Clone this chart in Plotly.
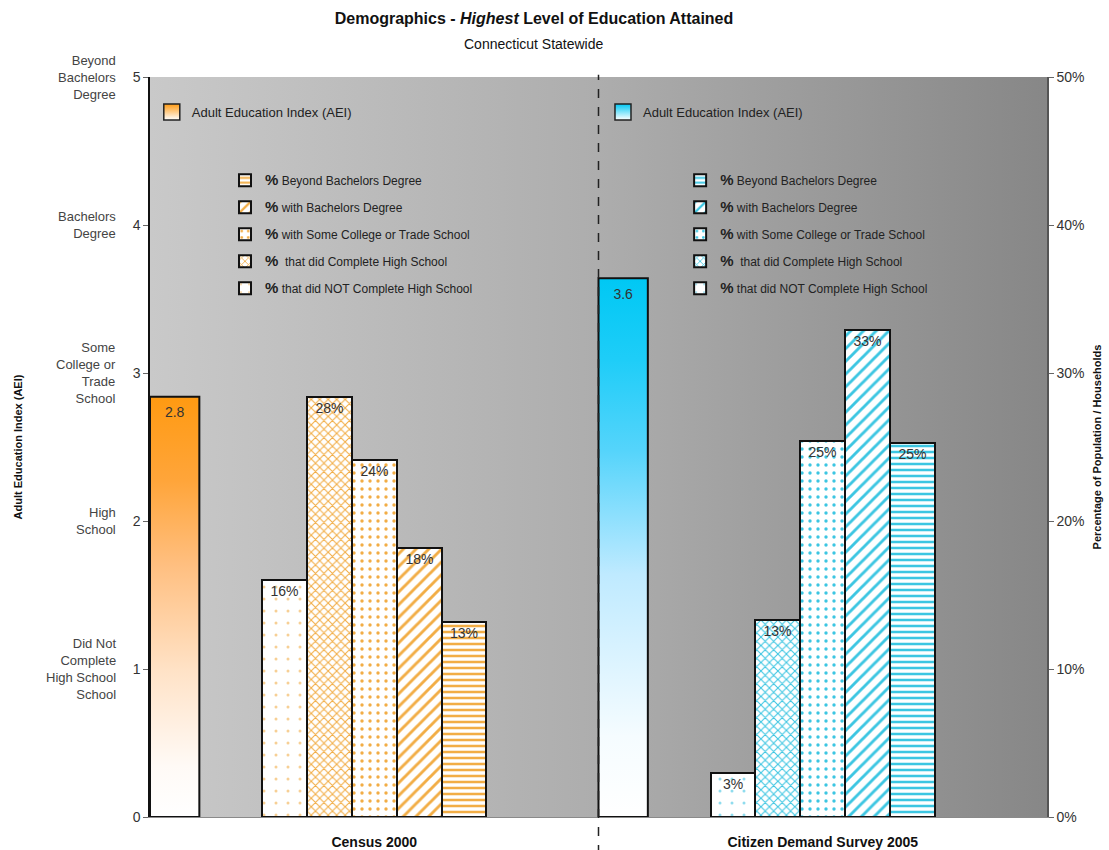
import base64
import plotly.graph_objects as go

# ---- data -------------------------------------------------------------
groups = ["Census 2000", "Citizen Demand Survey 2005"]
aei_values = [2.84, 3.64]  # Adult Education Index per source

levels = [
    "that did NOT Complete High School",
    " that did Complete High School",
    "with Some College or Trade School",
    "with Bachelors Degree",
    "Beyond Bachelors Degree",
]
census_pct = [16.0, 28.4, 24.1, 18.2, 13.2]
survey_pct = [3.0, 13.3, 25.4, 32.9, 25.3]
pct_by_group = [census_pct, survey_pct]

aei_tick_values = [0, 1, 2, 3, 4, 5]
aei_level_names = {
    1: "Did Not<br>Complete<br>High School<br>School",
    2: "High<br>School",
    3: "Some<br>College or<br>Trade<br>School",
    4: "Bachelors<br>Degree",
    5: "Beyond<br>Bachelors<br>Degree",
}
pct_tick_values = [0, 10, 20, 30, 40, 50]

# ---- styling ----------------------------------------------------------
FONT = "Liberation Sans, Arial, sans-serif"
W, H = 1109, 850
M_L, M_R, M_T, M_B = 150, 62, 77, 33
GROUP_SPAN = 10          # x units taken by each source
AEI_CENTER, AEI_WIDTH = 0.55, 1.1
LEVEL_START, LEVEL_WIDTH = 3.0, 1.0

pattern_color = ["#f2ad45", "#3cc6e2"]
faint_color = ["#f7cf94", "#8fdcee"]
aei_top = ["#ff9a12", "#00c8f4"]
aei_scales = [
    [[0, "#ffffff"], [0.12, "#fffaf6"], [0.35, "#ffe2c6"], [0.6, "#ffbf80"],
     [0.8, "#ffa53a"], [1, "#ff9a12"]],
    [[0, "#ffffff"], [0.15, "#f5fcff"], [0.45, "#bfeaff"], [0.68, "#55d4fb"],
     [0.85, "#1ecdf8"], [1, "#00c8f4"]],
]
level_patterns = [
    dict(shape=".", size=12, solidity=0.05, faint=True),
    dict(shape="x", size=6, solidity=0.32, faint=False),
    dict(shape=".", size=8, solidity=0.14, faint=False),
    dict(shape="/", size=9, solidity=0.32, faint=False),
    dict(shape="-", size=6, solidity=0.42, faint=False),
]
aei_legends = ["legend", "legend3"]
level_legends = ["legend2", "legend4"]

fig = go.Figure()

for g, name in enumerate(groups):
    base = g * GROUP_SPAN
    v = aei_values[g]
    x0 = base + AEI_CENTER - AEI_WIDTH / 2
    x1 = base + AEI_CENTER + AEI_WIDTH / 2
    # AEI column with vertical gradient
    fig.add_trace(go.Scatter(
        x=[x0, x1, x1, x0, x0], y=[0, 0, v, v, 0],
        mode="lines", fill="toself",
        fillgradient=dict(type="vertical", colorscale=aei_scales[g]),
        line=dict(color="#111111", width=2),
        showlegend=False, hoverinfo="skip", yaxis="y",
    ))
    # value label just under the column top
    fig.add_trace(go.Scatter(
        x=[base + AEI_CENTER], y=[v], mode="markers+text",
        marker=dict(size=14, color="rgba(0,0,0,0)"),
        text=[f"{v:.1f}"], textposition="bottom center",
        textfont=dict(family=FONT, size=14, color="#333333"),
        showlegend=False, hoverinfo="skip", yaxis="y",
    ))
    # legend swatch for the AEI column
    fig.add_trace(go.Scatter(
        x=[None], y=[None], mode="markers",
        marker=dict(symbol="square", size=17, color=aei_top[g],
                    gradient=dict(type="vertical", color="white"),
                    line=dict(color="#222222", width=1.5)),
        name="Adult Education Index (AEI)", legend=aei_legends[g],
        hoverinfo="skip", yaxis="y",
    ))
    # percentage columns
    for i, lvl in enumerate(levels):
        p = pct_by_group[g][i]
        pat = level_patterns[i]
        fg = faint_color[g] if pat["faint"] else pattern_color[g]
        fig.add_trace(go.Bar(
            x=[base + LEVEL_START + i * LEVEL_WIDTH], y=[p], width=LEVEL_WIDTH,
            yaxis="y2",
            marker=dict(
                color="white",
                line=dict(color="#111111", width=2),
                pattern=dict(shape=pat["shape"], size=pat["size"],
                             solidity=pat["solidity"],
                             fgcolor=fg, bgcolor="white",
                             fillmode="replace"),
            ),
            text=[f"{p:.0f}%"], textposition="inside", insidetextanchor="end",
            textangle=0, constraintext="none",
            textfont=dict(family=FONT, size=14, color="#333333"),
            name=f"<span style='font-size:15px'><b>%</b></span> {lvl}",
            legend=level_legends[g], legendgroup=f"{g}-{i}",
            legendrank=100 - i,
        ))

# gradient plot background
svg = (
    '<svg xmlns="http://www.w3.org/2000/svg" width="200" height="100" '
    'preserveAspectRatio="none"><defs><linearGradient id="g" x1="0" x2="1" '
    'y1="0" y2="0"><stop offset="0" stop-color="#c9c9c9"/>'
    '<stop offset="0.5" stop-color="#adadad"/>'
    '<stop offset="1" stop-color="#878787"/></linearGradient></defs>'
    '<rect width="200" height="100" fill="url(#g)"/></svg>'
)
bg_src = "data:image/svg+xml;base64," + base64.b64encode(svg.encode()).decode()

plot_w = W - M_L - M_R
plot_h = H - M_T - M_B
title_x_px = 534

annotations = [
    dict(x=-0.036, y=val, xref="paper", yref="y", text=txt,
         xanchor="right", yanchor="middle", align="right", showarrow=False,
         font=dict(family=FONT, size=13, color="#444444"))
    for val, txt in aei_level_names.items()
]
annotations.append(dict(
    x=(title_x_px - M_L) / plot_w, y=1 + (M_T - 44) / plot_h,
    xref="paper", yref="paper",
    text="Connecticut Statewide", showarrow=False,
    xanchor="center", yanchor="middle",
    font=dict(family=FONT, size=14, color="#111111"),
))

legend_common = dict(bgcolor="rgba(0,0,0,0)", xanchor="left", yanchor="top",
                     itemclick=False, itemdoubleclick=False)
pat_legend_font = dict(family=FONT, size=12, color="#222222")
aei_legend_font = dict(family=FONT, size=13, color="#222222")

fig.update_layout(
    width=W, height=H,
    margin=dict(l=M_L, r=M_R, t=M_T, b=M_B, autoexpand=False),
    paper_bgcolor="white", plot_bgcolor="rgba(0,0,0,0)",
    barmode="overlay", bargap=0,
    title=dict(
        text="<b>Demographics - <i>Highest</i> Level of Education Attained</b>",
        x=title_x_px / W, xref="container", xanchor="center",
        y=1 - 18 / H, yref="container", yanchor="middle",
        font=dict(family=FONT, size=16, color="#111111"),
    ),
    images=[dict(source=bg_src, xref="paper", yref="paper", x=0, y=1,
                 sizex=1, sizey=1, sizing="stretch", layer="below",
                 xanchor="left", yanchor="top")],
    xaxis=dict(
        range=[0, GROUP_SPAN * len(groups)],
        tickvals=[g * GROUP_SPAN + GROUP_SPAN / 2 for g in range(len(groups))],
        ticktext=groups, ticks="", ticklabelstandoff=12,
        tickfont=dict(family=FONT, size=14, color="#111111", weight="bold"),
        showgrid=False, zeroline=False, showline=True,
        linecolor="#8a8a8a", linewidth=1,
    ),
    yaxis=dict(
        range=[0, 5], tickvals=aei_tick_values, ticks="outside", ticklen=5,
        tickcolor="#666666", showgrid=False, zeroline=False,
        showline=True, linecolor="#111111", linewidth=1.5,
        tickfont=dict(family=FONT, size=14, color="#333333"),
        title=dict(text="Adult Education Index (AEI)", standoff=108,
                   font=dict(family=FONT, size=11, color="#111111",
                             weight="bold")),
    ),
    yaxis2=dict(
        range=[0, 50], tickvals=pct_tick_values,
        ticktext=[f"{v}%" for v in pct_tick_values],
        overlaying="y", side="right", ticks="outside", ticklen=5,
        tickcolor="#666666", showgrid=False, zeroline=False,
        showline=True, linecolor="#555555", linewidth=1.5,
        tickfont=dict(family=FONT, size=14, color="#333333"),
        title=dict(text="Percentage of Population / Households", standoff=10,
                   font=dict(family=FONT, size=11, color="#111111",
                             weight="bold")),
    ),
    legend=dict(x=0.002, y=0.973, font=aei_legend_font, **legend_common),
    legend2=dict(x=0.0836, y=0.880, font=pat_legend_font, tracegroupgap=8,
                 **legend_common),
    legend3=dict(x=0.505, y=0.973, font=aei_legend_font, **legend_common),
    legend4=dict(x=0.591, y=0.880, font=pat_legend_font, tracegroupgap=8,
                 **legend_common),
    annotations=annotations,
    shapes=[dict(type="line", xref="x", yref="paper",
                 x0=GROUP_SPAN, x1=GROUP_SPAN, y0=-0.05, y1=1.003,
                 line=dict(color="#222222", width=1.5, dash="dash"))],
)

fig.write_html("out.html")
